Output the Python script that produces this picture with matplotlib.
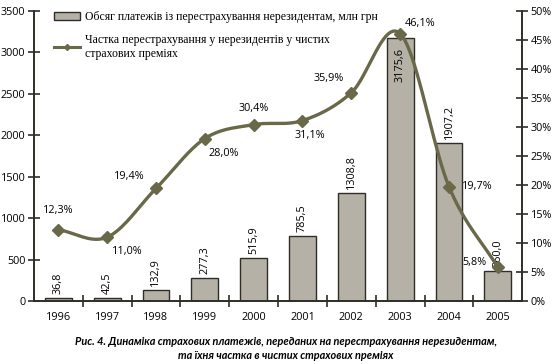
import numpy as np
import matplotlib
matplotlib.use('Agg')
import matplotlib.pyplot as plt
from matplotlib.patches import Patch
from matplotlib.lines import Line2D

years = ['1996', '1997', '1998', '1999', '2000', '2001', '2002', '2003', '2004', '2005']
payments = [36.8, 42.5, 132.9, 277.3, 515.9, 785.5, 1308.8, 3175.6, 1907.2, 360.0]
share = [12.3, 11.0, 19.4, 28.0, 30.4, 31.1, 35.9, 46.1, 19.7, 5.8]
# label offsets in pixels for the percentage labels
share_off = [(0, 19), (20, -14), (-27, 12), (19, -15), (0, 16),
             (7, -15), (-23, 14), (20, 10), (28, 0), (-23, 5)]

bar_col = '#b5b1a7'
edge_col = '#2e2d28'
line_col = '#696849'

plt.rcParams['font.family'] = ['Open Sans', 'DejaVu Sans']
fs = 7.8


def fmt(v, nd=1):
    return ('%.*f' % (nd, v)).replace('.', ',')


def smooth(x, y, n=20):
    # catmull-rom, only for drawing the curve between the points
    x = np.asarray(x, float)
    y = np.asarray(y, float)
    px = np.concatenate([[2 * x[0] - x[1]], x, [2 * x[-1] - x[-2]]])
    py = np.concatenate([[2 * y[0] - y[1]], y, [2 * y[-1] - y[-2]]])
    xs, ys = [], []
    t = np.linspace(0, 1, n, endpoint=False)
    for i in range(1, len(px) - 2):
        for p, out in ((px, xs), (py, ys)):
            p0, p1, p2, p3 = p[i - 1], p[i], p[i + 1], p[i + 2]
            out.extend(0.5 * (2 * p1 + (-p0 + p2) * t + (2 * p0 - 5 * p1 + 4 * p2 - p3) * t ** 2
                              + (-p0 + 3 * p1 - 3 * p2 + p3) * t ** 3))
    xs.append(x[-1])
    ys.append(y[-1])
    return xs, ys


fig = plt.figure(figsize=(5.55, 3.64), dpi=100)
ax = fig.add_axes([0.061, 0.173, 0.880, 0.797])
ax2 = ax.twinx()

x = np.arange(len(years))
ax.bar(x, payments, width=0.55, color=bar_col, edgecolor=edge_col, linewidth=1.0, zorder=2)
for xi, v in zip(x, payments):
    if v > 3000:
        ax.annotate(fmt(v), (xi, v), xytext=(0, -10), textcoords='offset pixels',
                    rotation=90, ha='center', va='top', fontsize=fs)
    else:
        ax.annotate(fmt(v), (xi, v), xytext=(0, 4), textcoords='offset pixels',
                    rotation=90, ha='center', va='bottom', fontsize=fs)

sx, sy = smooth(x, share)
ax2.plot(sx, sy, color=line_col, lw=2.4, zorder=3)
ax2.plot(x, share, ls='none', marker='D', ms=6.5, color=line_col, zorder=4)
for xi, v, (dx, dy) in zip(x, share, share_off):
    ax2.annotate(fmt(v) + '%', (xi, v), xytext=(dx, dy), textcoords='offset pixels',
                 ha='center', va='center', fontsize=fs)

ax.set_xlim(-0.5, len(years) - 0.5)
ax.set_ylim(0, 3500)
ax2.set_ylim(0, 50)
ax.set_yticks(np.arange(0, 3501, 500))
ax2.set_yticks(np.arange(0, 51, 5))
ax2.set_yticklabels(['%d%%' % v for v in range(0, 51, 5)])

ax.set_xticks(x)
ax.set_xticklabels(years)
ax.set_xticks(np.arange(-0.5, len(years), 1)[1:-1], minor=True)
ax.tick_params(axis='x', which='major', length=0, pad=8, labelsize=fs)
ax.tick_params(axis='x', which='minor', direction='inout', length=8, width=1.2, color=edge_col)
ax.tick_params(axis='y', direction='inout', length=8, width=1.2, color=edge_col, labelsize=fs, pad=2)
ax2.tick_params(axis='y', direction='inout', length=8, width=1.2, color=edge_col, labelsize=fs, pad=2)

for a in (ax, ax2):
    a.spines['top'].set_visible(False)
    for s in ('left', 'right', 'bottom'):
        a.spines[s].set_color(edge_col)
        a.spines[s].set_linewidth(1.2)
ax.set_zorder(ax2.get_zorder() - 1)
ax.patch.set_visible(False)

handles = [Patch(facecolor=bar_col, edgecolor=edge_col, linewidth=1.0),
           Line2D([], [], color=line_col, lw=2.2, marker='D', ms=3)]
labels = ['Обсяг платежів із перестрахування нерезидентам, млн грн',
          'Частка перестрахування у нерезидентів у чистих\nстрахових преміях']
leg = ax2.legend(handles, labels, loc='upper left', bbox_to_anchor=(0.02, 1.035),
                 frameon=False, handlelength=2.2, handleheight=0.6, labelspacing=0.9,
                 handletextpad=0.4, prop={'family': 'Liberation Serif', 'size': 8.5})

cap = {'ha': 'center', 'va': 'center', 'fontsize': 7.8, 'style': 'italic', 'weight': 'bold',
       'family': ['Lato', 'DejaVu Sans']}
fig.text(0.515, 0.062, 'Рис. 4. Динаміка страхових платежів, переданих на перестрахування нерезидентам,', **cap)
fig.text(0.515, 0.022, 'та їхня частка в чистих страхових преміях', **cap)

fig.savefig('out.png', dpi=100)
